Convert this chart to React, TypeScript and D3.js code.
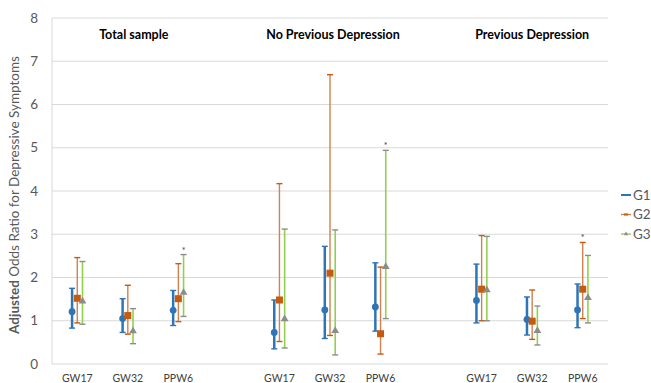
import React from 'react';
import * as d3 from 'd3';

// values (order: panel by panel, GW17 / GW32 / PPW6)
const panels = ['Total sample', 'No Previous Depression', 'Previous Depression'];
const categories = ['GW17', 'GW32', 'PPW6'];
const seriesNames = ['G1', 'G2', 'G3'];
const yTicks = [0, 1, 2, 3, 4, 5, 6, 7, 8];

const g1Or = [1.21, 1.05, 1.24, 0.73, 1.25, 1.32, 1.47, 1.03, 1.25];
const g1Lo = [0.83, 0.73, 0.89, 0.35, 0.59, 0.76, 0.95, 0.67, 0.84];
const g1Hi = [1.75, 1.51, 1.70, 1.48, 2.72, 2.34, 2.31, 1.55, 1.85];

const g2Or = [1.52, 1.12, 1.51, 1.48, 2.10, 0.70, 1.73, 0.99, 1.73];
const g2Lo = [0.95, 0.69, 0.98, 0.52, 0.66, 0.23, 1.00, 0.57, 1.05];
const g2Hi = [2.46, 1.82, 2.32, 4.17, 6.69, 2.24, 2.97, 1.71, 2.81];

const g3Or = [1.45, 0.76, 1.65, 1.04, 0.77, 2.25, 1.71, 0.77, 1.53];
const g3Lo = [0.92, 0.47, 1.10, 0.37, 0.21, 1.05, 1.00, 0.44, 0.95];
const g3Hi = [2.37, 1.28, 2.53, 3.12, 3.10, 4.94, 2.95, 1.34, 2.51];

// significant marks (*)
const starPanels = [0, 1, 2];
const starCategories = ['PPW6', 'PPW6', 'PPW6'];
const starSeries = ['G3', 'G3', 'G2'];

const W = 651;
const H = 383;
const margin = {top: 18, right: 43, bottom: 19, left: 52};
const font = 'Lato, "Open Sans", sans-serif';

const styles: Record<string, {bar: string; cap: string; barW: number; marker: string}> = {
  G1: {bar: '#2e75b6', cap: '#2e75b6', barW: 2.5, marker: '#2e75b6'},
  G2: {bar: '#cf8250', cap: '#c55a11', barW: 1.4, marker: '#c55a11'},
  G3: {bar: '#92d050', cap: '#8c8c8c', barW: 1.6, marker: '#8c8c8c'},
};

const seriesData: Record<string, number[][]> = {
  G1: [g1Or, g1Lo, g1Hi],
  G2: [g2Or, g2Lo, g2Hi],
  G3: [g3Or, g3Lo, g3Hi],
};

const slotKey = (p: number, c: string) => `${p}-${c}`;

export default function App() {
  // categories with one empty slot between panels
  const slots: string[] = [];
  panels.forEach((_, p) => {
    categories.forEach(c => slots.push(slotKey(p, c)));
    if (p < panels.length - 1) slots.push(`gap${p}`);
  });

  const x = d3.scaleBand().domain(slots).range([margin.left, W - margin.right]);
  const dx = d3.scalePoint().domain(seriesNames).range([-5.2, 5.2]);
  const y = d3.scaleLinear().domain([0, 8]).range([H - margin.bottom, margin.top]);
  const cx = (k: string) => (x(k) as number) + x.bandwidth() / 2;

  const points = seriesNames.flatMap(s =>
    panels.flatMap((_, p) =>
      categories.map((c, ci) => {
        const i = p * categories.length + ci;
        const [or, lo, hi] = seriesData[s];
        return {s, x: cx(slotKey(p, c)) + (dx(s) as number), or: or[i], lo: lo[i], hi: hi[i]};
      })
    )
  );

  const tri = d3.symbol().type(d3.symbolTriangle).size(26)();
  const legendY = d3.scalePoint().domain(seriesNames).range([195, 234]);

  return (
    <svg width={W} height={H} style={{position: 'absolute', left: 0, top: 0, background: '#fff'}} fontFamily={font}>
      {yTicks.map(t => (
        <g key={t}>
          <line x1={margin.left} x2={W - margin.right} y1={y(t)} y2={y(t)} stroke="#d9d9d9" strokeWidth={1} />
          <text x={38} y={y(t)} dy="0.35em" textAnchor="end" fontSize={13.5} fill="#595959">{t}</text>
        </g>
      ))}
      <line x1={margin.left} x2={margin.left} y1={y(8)} y2={y(0)} stroke="#d9d9d9" strokeWidth={1} />

      <text transform={`translate(19,${(y(0) + y(8)) / 2 + 4}) rotate(-90)`} textAnchor="middle" fontSize={13.5} fill="#595959">
        <tspan fontWeight="bold">Adjusted</tspan> Odds Ratio for Depressive Symptoms
      </text>

      {panels.map((name, p) => (
        <g key={name}>
          <text x={cx(slotKey(p, categories[1])) + (p === 0 ? 6 : p === 1 ? 3 : 0)} y={39} textAnchor="middle" fontSize={12.5} fontWeight="bold" fill="#000">
            {name}
          </text>
          {categories.map(c => (
            <text key={c} x={cx(slotKey(p, c))} y={382} textAnchor="middle" fontSize={10.5} fill="#404040">{c}</text>
          ))}
        </g>
      ))}

      {points.map((d, i) => {
        const st = styles[d.s];
        return (
          <g key={i}>
            <line x1={d.x} x2={d.x} y1={y(d.lo)} y2={y(d.hi)} stroke={st.bar} strokeWidth={st.barW} />
            <line x1={d.x - 3} x2={d.x + 3} y1={y(d.lo)} y2={y(d.lo)} stroke={st.cap} strokeWidth={1.4} />
            <line x1={d.x - 3} x2={d.x + 3} y1={y(d.hi)} y2={y(d.hi)} stroke={st.cap} strokeWidth={1.4} />
            {d.s === 'G1' && <circle cx={d.x} cy={y(d.or)} r={3.4} fill={st.marker} />}
            {d.s === 'G2' && <rect x={d.x - 3.5} y={y(d.or) - 3.5} width={7} height={7} fill={st.marker} />}
            {d.s === 'G3' && <path d={tri as string} transform={`translate(${d.x},${y(d.or)})`} fill={st.marker} />}
          </g>
        );
      })}

      {starPanels.map((p, i) => {
        const ci = categories.indexOf(starCategories[i]);
        const idx = p * categories.length + ci;
        const hi = seriesData[starSeries[i]][2][idx];
        const sx = cx(slotKey(p, starCategories[i])) + (dx(starSeries[i]) as number);
        return (
          <text key={i} x={sx} y={y(hi) - 1} textAnchor="middle" fontSize={9} fill="#404040">*</text>
        );
      })}

      {seriesNames.map(s => {
        const st = styles[s];
        const ly = legendY(s) as number;
        return (
          <g key={s}>
            <line x1={621} x2={631} y1={ly} y2={ly} stroke={st.bar} strokeWidth={s === 'G1' ? 2 : 1.4} />
            {s === 'G2' && <line x1={624} x2={628} y1={ly} y2={ly} stroke={st.marker} strokeWidth={2} />}
            {s === 'G3' && <path d={d3.symbol().type(d3.symbolTriangle).size(8)() as string} transform={`translate(626,${ly})`} fill={st.marker} />}
            <text x={633} y={ly} dy="0.35em" fontSize={13.5} fill="#595959">{s}</text>
          </g>
        );
      })}
    </svg>
  );
}
